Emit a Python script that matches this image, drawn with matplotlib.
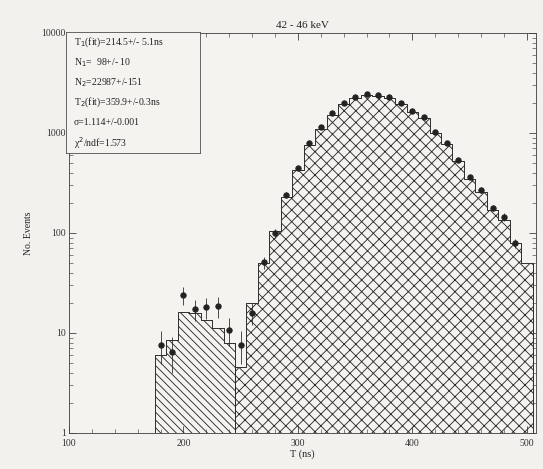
import numpy as np
import matplotlib
matplotlib.use("Agg")
import matplotlib.pyplot as plt
from matplotlib.ticker import LogLocator, NullFormatter, FixedLocator

DPI = 70
plt.rcParams['font.family'] = ['Liberation Serif', 'DejaVu Serif']
plt.rcParams['hatch.color'] = '#2a2a2a'
plt.rcParams['hatch.linewidth'] = 0.9

# --- data ---
data_t = [180, 190, 200, 210, 220, 230, 240, 250, 260, 270, 280, 290, 300, 310, 320,
          330, 340, 350, 360, 370, 380, 390, 400, 410, 420, 430, 440, 450, 460, 470,
          480, 490]
data_n = [7.6, 6.5, 24, 17.4, 18.2, 18.6, 10.7, 7.6, 16, 51, 100, 240, 447, 794, 1148,
          1585, 1995, 2291, 2455, 2399, 2291, 1995, 1660, 1445, 1023, 794, 537, 363, 269, 178,
          145, 79]

comp1_edges = [175, 185, 195, 205, 215, 225, 235, 245]
comp1_n = [6.0, 8.5, 16.2, 15.8, 13.5, 11.2, 7.9]

comp2_edges = [245, 255, 265, 275, 285, 295, 305, 315, 325, 335, 345, 355, 365, 375, 385,
               395, 405, 415, 425, 435, 445, 455, 465, 475, 485, 495, 505]
comp2_n = [4.6, 20, 50, 105, 230, 430, 760, 1100, 1530, 1930, 2230, 2400, 2350, 2230, 1950,
           1620, 1400, 1000, 770, 520, 350, 255, 170, 135, 80, 50]

title = "42 - 46 keV"
xlabel = "T (ns)"
ylabel = "No. Events"
stats = ["T$_1$(fit)=214.5+/- 5.1ns",
         "N$_1$=  98+/- 10",
         "N$_2$=22987+/-151",
         "T$_2$(fit)=359.9+/-0.3ns",
         "\u03c3=1.114+/-0.001",
         "\u03c7$^2$/ndf=1.573"]

W, H = 543, 469
fig = plt.figure(figsize=(W / DPI, H / DPI), dpi=DPI, facecolor='#f2f1ee')
ax = fig.add_axes([69 / W, 1 - 433 / H, (536 - 69) / W, (433 - 33) / H])
ax.set_facecolor('#f4f3f0')

ax.stairs(comp1_n, comp1_edges, baseline=1, fill=True, facecolor='none',
          edgecolor='#2a2a2a', hatch='\\\\\\', linewidth=0.8)
ax.stairs(comp1_n, comp1_edges, baseline=1, fill=False, edgecolor='#2a2a2a', linewidth=0.8)
ax.stairs(comp2_n, comp2_edges, baseline=1, fill=True, facecolor='none',
          edgecolor='#2a2a2a', hatch='xx', linewidth=0.8)
ax.stairs(comp2_n, comp2_edges, baseline=1, fill=False, edgecolor='#2a2a2a', linewidth=0.8)

dn = np.array(data_n)
err = np.sqrt(dn)
ax.errorbar(data_t, dn, yerr=err, fmt='o', color='#222222', markersize=5.5,
            elinewidth=0.8, capsize=0, zorder=5)

ax.set_yscale('log')
ax.set_xlim(100, 508)
ax.set_ylim(1, 10000)
ax.set_xticks([100, 200, 300, 400, 500])
ax.xaxis.set_minor_locator(FixedLocator(np.arange(100, 510, 20)))
ax.yaxis.set_minor_locator(LogLocator(base=10, subs=np.arange(2, 10)))
ax.yaxis.set_minor_formatter(NullFormatter())
ax.set_yticks([1, 10, 100, 1000, 10000])
ax.set_yticklabels(['1', '10', '100', '1000', '10000'])
ax.tick_params(which='both', direction='in', top=True, right=True, labelsize=10,
               colors='#333333')
ax.tick_params(axis='x', which='major', pad=6)
ax.tick_params(which='major', length=7)
ax.tick_params(which='minor', length=4)
for s in ax.spines.values():
    s.set_color('#444444')
    s.set_linewidth(0.9)

ax.set_title(title, fontsize=11.5, pad=5, color='#222222')
ax.set_xlabel(xlabel, fontsize=10.5, labelpad=2, color='#222222')
ax.set_ylabel(ylabel, fontsize=10, labelpad=8, color='#222222')

# stats box
bx0, by0, bx1, by1 = 66, 32, 200, 153
ax_box = fig.add_axes([bx0 / W, 1 - by1 / H, (bx1 - bx0) / W, (by1 - by0) / H])
ax_box.set_xlim(0, 1)
ax_box.set_ylim(0, 1)
ax_box.set_xticks([])
ax_box.set_yticks([])
ax_box.set_facecolor('#f4f3f0')
for s in ax_box.spines.values():
    s.set_color('#555555')
    s.set_linewidth(0.9)
n = len(stats)
for i, t in enumerate(stats):
    ax_box.text(0.06, 1 - (i + 0.5) / n, t, fontsize=10, va='center', ha='left',
                color='#222222')

fig.savefig('out.png', dpi=DPI, facecolor=fig.get_facecolor())
